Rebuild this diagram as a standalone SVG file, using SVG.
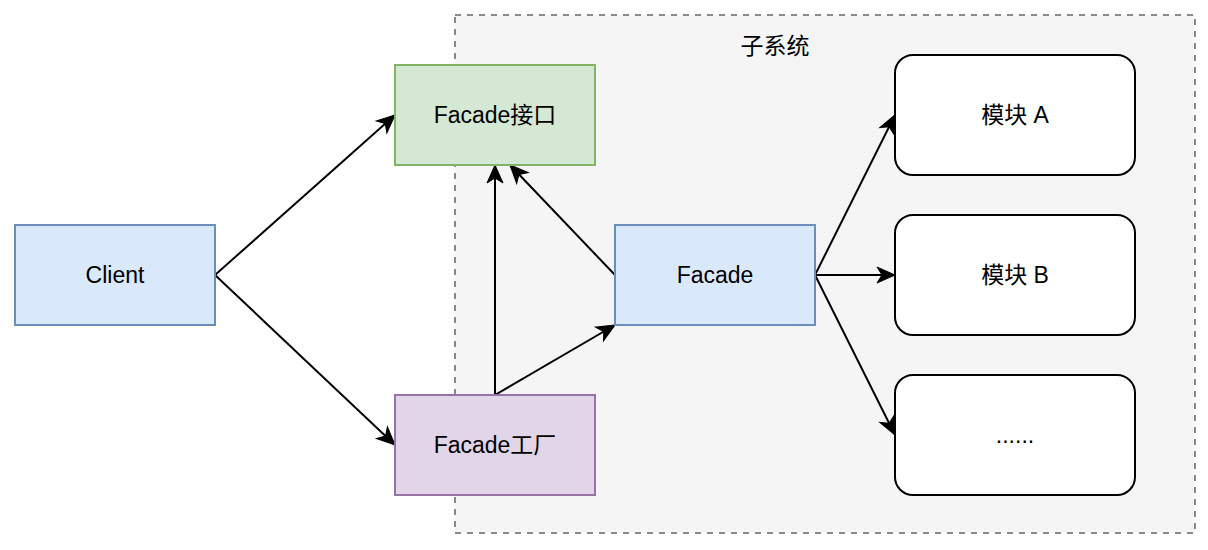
<svg xmlns="http://www.w3.org/2000/svg" width="1208" height="550" viewBox="0 0 1208 550">
  <style>
    text { font-family: "Liberation Sans", "Noto Sans CJK SC", Arial, sans-serif; font-size: 23px; fill: #000; text-anchor: middle; dominant-baseline: central; }
    .blue { fill: #dae8fc; stroke: #6c8ebf; stroke-width: 2; }
    .green { fill: #d5e8d4; stroke: #82b366; stroke-width: 2; }
    .purple { fill: #e1d5e7; stroke: #9673a6; stroke-width: 2; }
    .module { fill: #ffffff; stroke: #000000; stroke-width: 2; }
    .edge { fill: none; stroke: #000; stroke-width: 2; marker-end: url(#arrow); }
  </style>
  <defs>
    <marker id="arrow" markerUnits="userSpaceOnUse" markerWidth="20" markerHeight="18" refX="18" refY="8" orient="auto" overflow="visible">
      <path d="M18,8 L0,0 L5,8 L0,16 Z" fill="#000" stroke="#000" stroke-width="1" stroke-linejoin="miter"/>
    </marker>
  </defs>
  <rect x="0" y="0" width="1208" height="550" fill="#ffffff"/>
  <g id="subsystem">
    <rect x="455" y="15" width="740" height="518" fill="#f5f5f5" stroke="#666666" stroke-width="1.5" stroke-dasharray="6 6"/>
    <text x="775" y="46">子系统</text>
  </g>
  <g id="connectors">
    <line class="edge" x1="215" y1="275" x2="395" y2="115"/>
    <line class="edge" x1="215" y1="275" x2="395" y2="445"/>
    <line class="edge" x1="495" y1="395" x2="495" y2="165"/>
    <line class="edge" x1="495" y1="395" x2="615" y2="325"/>
    <line class="edge" x1="615" y1="275" x2="510" y2="165"/>
    <line class="edge" x1="815" y1="275" x2="895" y2="115"/>
    <line class="edge" x1="815" y1="275" x2="895" y2="275"/>
    <line class="edge" x1="815" y1="275" x2="895" y2="435"/>
  </g>
  <g id="client">
    <rect class="blue" x="15" y="225" width="200" height="100"/>
    <text x="115" y="275">Client</text>
  </g>
  <g id="facade-interface">
    <rect class="green" x="395" y="65" width="200" height="100"/>
    <text x="495" y="115">Facade接口</text>
  </g>
  <g id="facade-factory">
    <rect class="purple" x="395" y="395" width="200" height="100"/>
    <text x="495" y="445">Facade工厂</text>
  </g>
  <g id="facade">
    <rect class="blue" x="615" y="225" width="200" height="100"/>
    <text x="715" y="275">Facade</text>
  </g>
  <g id="module-a">
    <rect class="module" x="895" y="55" width="240" height="120" rx="18" ry="18"/>
    <text x="1015" y="115">模块 A</text>
  </g>
  <g id="module-b">
    <rect class="module" x="895" y="215" width="240" height="120" rx="18" ry="18"/>
    <text x="1015" y="275">模块 B</text>
  </g>
  <g id="module-more">
    <rect class="module" x="895" y="375" width="240" height="120" rx="18" ry="18"/>
    <text x="1015" y="435">......</text>
  </g>
</svg>
